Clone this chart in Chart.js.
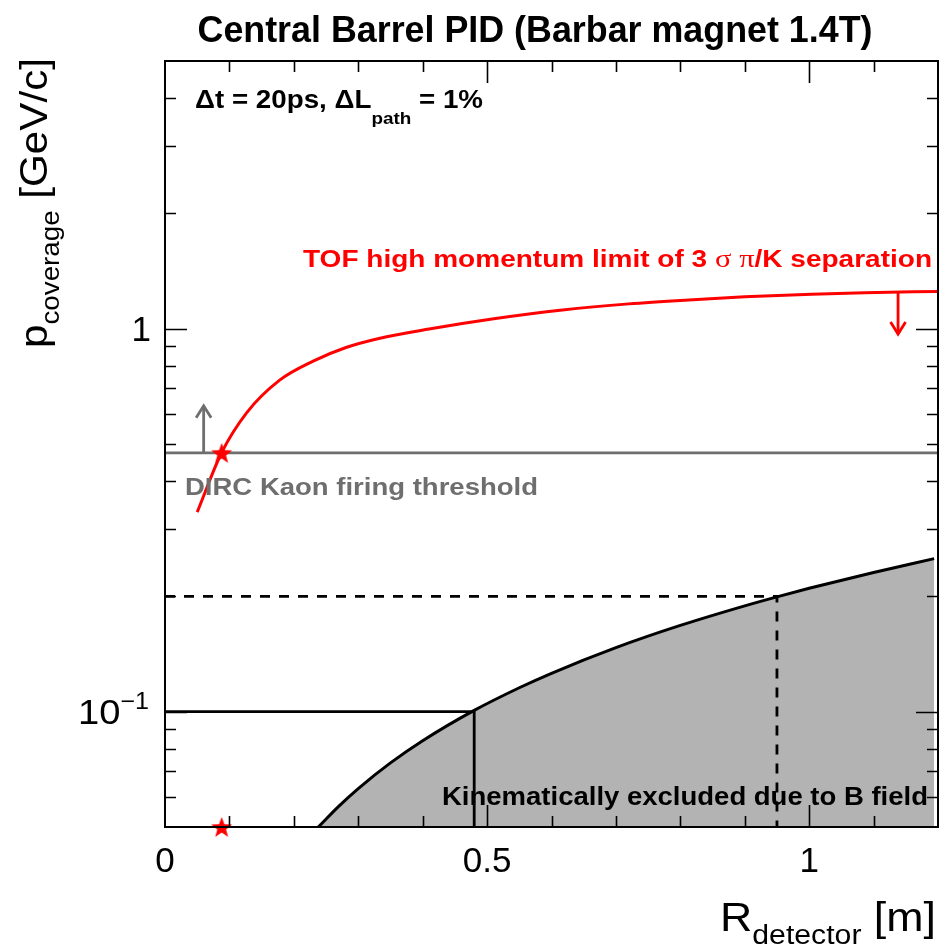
<!DOCTYPE html>
<html><head><meta charset="utf-8">
<script src="https://cdn.jsdelivr.net/npm/chart.js@4/dist/chart.umd.min.js"></script>
<style>html,body{margin:0;padding:0;background:#fff;overflow:hidden}</style>
</head><body>
<canvas id="c" width="939" height="947"></canvas>
<script>
// ---------- data ----------
const xRange = [0, 1.2];
const yRange = [0.05, 5];

// TOF 3-sigma pi/K separation high-momentum limit
const tofR = [0.050, 0.088, 0.127, 0.178, 0.230, 0.281, 0.332, 0.410, 0.513, 0.617, 0.720, 0.813, 0.900, 1.004, 1.086, 1.200];
const tofP = [0.332, 0.475, 0.604, 0.734, 0.823, 0.893, 0.943, 0.998, 1.063, 1.119, 1.161, 1.189, 1.211, 1.231, 1.242, 1.251];

// Kinematic exclusion boundary (B field)
const bR = [0.238, 0.270, 0.300, 0.350, 0.400, 0.480, 0.550, 0.600, 0.700, 0.800, 0.900, 0.950, 1.000, 1.100, 1.194];
const bP = [0.050, 0.0567, 0.063, 0.0735, 0.084, 0.1008, 0.1155, 0.126, 0.147, 0.168, 0.189, 0.1995, 0.210, 0.231, 0.251];

const dircThreshold = 0.474;
const solidRef = { r: 0.48, p: 0.1 };
const dashedRef = { r: 0.95, p: 0.2 };
const starR = [0.088, 0.088];
const starP = [0.474, 0.05];
const grayArrow = { r: 0.06, from: 0.474, to: 0.629 };
const redArrow = { r: 1.138, from: 1.245, to: 0.968 };

const xTickValues = [0, 0.5, 1];
const xTickLabels = ['0', '0.5', '1'];
const yTickValues = [1, 0.1];

// ---------- helpers ----------
const zip = (a, b) => a.map((v, i) => ({ x: v, y: b[i] }));
const RED = '#ff0000', GRAY = '#6e6e6e', FILL = '#b3b3b3';
const SANS = '"Liberation Sans", Arial, Helvetica, sans-serif';
const SERIF = '"Liberation Serif", "DejaVu Serif", serif';

function starCanvas(size, color) {
  const c = document.createElement('canvas');
  c.width = size; c.height = size;
  const g = c.getContext('2d');
  const cx = size / 2, cy = size / 2 + 1, ro = size / 2, ri = ro * 0.42;
  g.beginPath();
  for (let i = 0; i < 10; i++) {
    const r = i % 2 ? ri : ro;
    const a = -Math.PI / 2 + i * Math.PI / 5;
    g.lineTo(cx + r * Math.cos(a), cy + r * Math.sin(a));
  }
  g.closePath(); g.fillStyle = color; g.fill();
  return c;
}

function rich(ctx, segs, x, y, width, align) {
  let total = 0;
  segs.forEach(s => { ctx.font = s.font; s.w = ctx.measureText(s.t).width; total += s.w; });
  const sc = width ? width / total : 1;
  const w = total * sc;
  let x0 = x;
  if (align === 'center') x0 = x - w / 2;
  if (align === 'right') x0 = x - w;
  ctx.save();
  ctx.translate(x0, y);
  ctx.scale(sc, 1);
  let cx = 0;
  segs.forEach(s => {
    ctx.font = s.font; ctx.fillStyle = s.color || '#000';
    ctx.textAlign = 'left'; ctx.textBaseline = 'alphabetic';
    ctx.fillText(s.t, cx, s.dy || 0);
    cx += s.w;
  });
  ctx.restore();
}

function arrowHead(ctx, x, y, dir, color) {
  // dir: -1 pointing up, +1 pointing down
  ctx.save();
  ctx.strokeStyle = color; ctx.lineWidth = 2.8; ctx.lineCap = 'butt'; ctx.lineJoin = 'miter';
  ctx.beginPath();
  ctx.moveTo(x - 7.5, y - dir * 12);
  ctx.lineTo(x, y);
  ctx.lineTo(x + 7.5, y - dir * 12);
  ctx.stroke();
  ctx.restore();
}

const deco = {
  id: 'deco',
  afterDatasetDraw(chart, args) {
    if (args.index !== 0) return;
    const ctx = chart.ctx;
    rich(ctx, [{ t: 'Kinematically excluded due to B field', font: 'bold 25px ' + SANS }], 442, 805, 486, 'left');
  },
  afterDatasetsDraw(chart) {
    const ctx = chart.ctx, xs = chart.scales.x, ys = chart.scales.y, a = chart.chartArea;
    // arrow heads
    arrowHead(ctx, xs.getPixelForValue(grayArrow.r), ys.getPixelForValue(grayArrow.to), -1, GRAY);
    arrowHead(ctx, xs.getPixelForValue(redArrow.r), ys.getPixelForValue(redArrow.to), 1, RED);

    // frame
    ctx.save();
    ctx.strokeStyle = '#000'; ctx.lineWidth = 2;
    ctx.strokeRect(a.left, a.top, a.right - a.left, a.bottom - a.top);
    // x ticks
    ctx.lineWidth = 1.6;
    ctx.beginPath();
    for (let i = 1; i <= 11; i++) {
      const v = i / 10, px = Math.round(xs.getPixelForValue(v)) + 0.5;
      const len = (i % 5 === 0) ? 22 : 11;
      ctx.moveTo(px, a.bottom); ctx.lineTo(px, a.bottom - len);
      ctx.moveTo(px, a.top); ctx.lineTo(px, a.top + len);
    }
    // y ticks
    const yt = [];
    for (let d = -2; d <= 0; d++) for (let m = 1; m <= 9; m++) {
      const v = m * Math.pow(10, d);
      if (v > yRange[0] * 1.0001 && v < yRange[1] * 0.9999) yt.push([v, m === 1]);
    }
    yt.forEach(([v, maj]) => {
      const py = Math.round(ys.getPixelForValue(v)) + 0.5;
      const len = maj ? 22 : 11;
      ctx.moveTo(a.left, py); ctx.lineTo(a.left + len, py);
      ctx.moveTo(a.right, py); ctx.lineTo(a.right - len, py);
    });
    ctx.stroke();
    ctx.restore();

    // tick labels
    xTickValues.forEach((v, i) => {
      rich(ctx, [{ t: xTickLabels[i], font: '35px ' + SANS }], xs.getPixelForValue(v), 872, null, 'center');
    });
    const y1 = ys.getPixelForValue(yTickValues[0]);
    rich(ctx, [{ t: '1', font: '35px ' + SANS }], 151, y1 + 12.5, null, 'right');
    const y01 = ys.getPixelForValue(yTickValues[1]);
    rich(ctx, [{ t: '10', font: '35px ' + SANS }, { t: '\u22121', font: '23px ' + SANS, dy: -15 }], 149, y01 + 12.5, 71, 'right');

    // axis titles
    rich(ctx, [{ t: 'R', font: '40px ' + SANS }, { t: 'detector', font: '27px ' + SANS, dy: 13 }, { t: ' [m]', font: '40px ' + SANS }], 936, 931, 216, 'right');
    ctx.save();
    ctx.translate(47, 58);
    ctx.rotate(-Math.PI / 2);
    rich(ctx, [{ t: 'p', font: '38px ' + SANS }, { t: 'coverage', font: '25px ' + SANS, dy: 12 }, { t: ' [GeV/c]', font: '38px ' + SANS }], 0, 0, 290, 'right');
    ctx.restore();

    // title
    rich(ctx, [{ t: 'Central Barrel PID (Barbar magnet 1.4T)', font: 'bold 37px ' + SANS }], 535, 42, 675, 'center');

    // annotations
    rich(ctx, [
      { t: '\u0394t = 20ps, \u0394L', font: 'bold 25px ' + SANS },
      { t: 'path', font: 'bold 17px ' + SANS, dy: 16 },
      { t: ' = 1%', font: 'bold 25px ' + SANS }
    ], 195, 108, 288, 'left');

    rich(ctx, [
      { t: 'TOF high momentum limit of 3 ', font: 'bold 23px ' + SANS, color: RED },
      { t: '\u03c3', font: '25px ' + SERIF, color: RED },
      { t: ' ', font: 'bold 23px ' + SANS, color: RED },
      { t: '\u03c0', font: '25px ' + SERIF, color: RED },
      { t: '/K separation', font: 'bold 23px ' + SANS, color: RED }
    ], 303, 267, 629, 'left');

    rich(ctx, [{ t: 'DIRC Kaon firing threshold', font: 'bold 23px ' + SANS, color: GRAY }], 185, 495, 353, 'left');
  }
};

const star = starCanvas(22, RED);

new Chart(document.getElementById('c'), {
  type: 'scatter',
  data: {
    datasets: [
      { order: 10, data: zip(bR, bP), showLine: true, borderColor: '#000', borderWidth: 3, backgroundColor: FILL, fill: 'start', pointRadius: 0, cubicInterpolationMode: 'monotone' },
      { order: 9, data: [{ x: xRange[0], y: dircThreshold }, { x: xRange[1], y: dircThreshold }], showLine: true, borderColor: GRAY, borderWidth: 2.8, pointRadius: 0, fill: false },
      { order: 8, data: [{ x: 0, y: solidRef.p }, { x: solidRef.r, y: solidRef.p }, { x: solidRef.r, y: yRange[0] }], showLine: true, borderColor: '#000', borderWidth: 2.8, pointRadius: 0, fill: false },
      { order: 7, data: [{ x: 0, y: dashedRef.p }, { x: dashedRef.r, y: dashedRef.p }, { x: dashedRef.r, y: yRange[0] }], showLine: true, borderColor: '#000', borderWidth: 2.8, borderDash: [10, 9], pointRadius: 0, fill: false },
      { order: 5, data: zip(tofR, tofP), showLine: true, borderColor: RED, borderWidth: 3, pointRadius: 0, fill: false, cubicInterpolationMode: 'monotone' },
      { order: 4, data: [{ x: grayArrow.r, y: grayArrow.from }, { x: grayArrow.r, y: grayArrow.to }], showLine: true, borderColor: GRAY, borderWidth: 2.8, pointRadius: 0, fill: false },
      { order: 3, data: [{ x: redArrow.r, y: redArrow.from }, { x: redArrow.r, y: redArrow.to }], showLine: true, borderColor: RED, borderWidth: 2.8, pointRadius: 0, fill: false },
      { order: 1, data: zip(starR, starP), showLine: false, pointStyle: star, pointRadius: 11, clip: false }
    ]
  },
  options: {
    responsive: false, animation: false, devicePixelRatio: 1,
    layout: { autoPadding: false, padding: { left: 165, right: 1, top: 61, bottom: 120 } },
    plugins: { legend: { display: false }, tooltip: { enabled: false }, title: { display: false } },
    scales: {
      x: { type: 'linear', min: xRange[0], max: xRange[1], display: false },
      y: { type: 'logarithmic', min: yRange[0], max: yRange[1], display: false }
    }
  },
  plugins: [deco]
});
</script>
</body></html>
